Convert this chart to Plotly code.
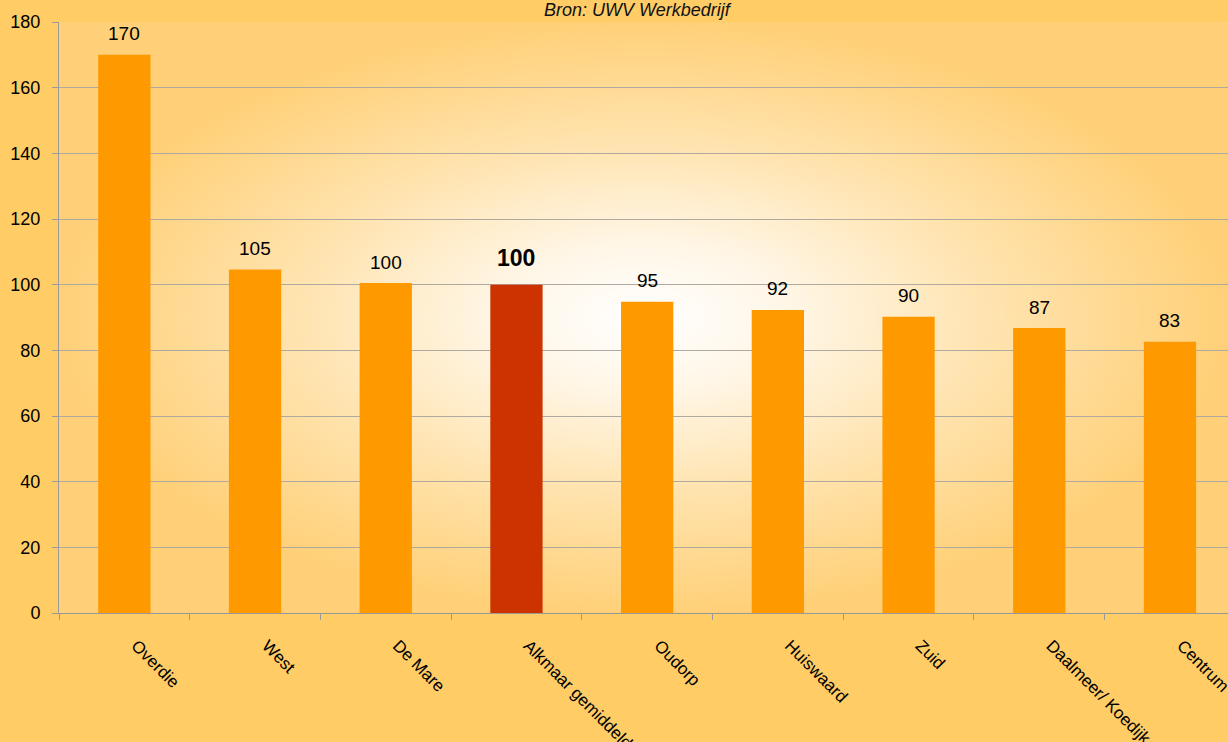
import base64
import plotly.graph_objects as go

categories = ["Overdie", "West", "De Mare", "Alkmaar gemiddeld", "Oudorp",
              "Huiswaard", "Zuid", "Daalmeer/ Koedijk", "Centrum"]
values = [170, 104.6, 100.5, 100, 94.8, 92.3, 90.2, 86.8, 82.6]
value_labels = ["170", "105", "100", "100", "95", "92", "90", "87", "83"]
highlight = "Alkmaar gemiddeld"
subtitle = "Bron: UWV Werkbedrijf"
y_ticks = [0, 20, 40, 60, 80, 100, 120, 140, 160, 180]

FONT = "Liberation Sans, Arial, sans-serif"
ORANGE = "#FF9900"
RED = "#CC3300"
PAPER = "#FFCC66"

svg = """<svg xmlns='http://www.w3.org/2000/svg' width='1000' height='1000' preserveAspectRatio='none' viewBox='0 0 1000 1000'>
<defs><radialGradient id='g' cx='0.5' cy='0.5' r='0.5'>
<stop offset='0' stop-color='#FFFFFF'/>
<stop offset='0.25' stop-color='#FFF6E6'/>
<stop offset='0.6' stop-color='#FFE3AE'/>
<stop offset='1' stop-color='#FFD078'/>
</radialGradient></defs>
<rect width='1000' height='1000' fill='#FFD078'/>
<rect width='1000' height='1000' fill='url(#g)'/>
</svg>"""
svg_uri = "data:image/svg+xml;base64," + base64.b64encode(svg.encode()).decode()

colors = [RED if c == highlight else ORANGE for c in categories]

fig = go.Figure()
fig.add_trace(go.Bar(
    x=categories, y=values, marker=dict(color=colors, line=dict(width=0)),
    width=0.4, hoverinfo="skip",
))

for c, v, lab in zip(categories, values, value_labels):
    bold = c == highlight
    fig.add_annotation(
        x=c, y=v, xref="x", yref="y", text=f"<b>{lab}</b>" if bold else lab,
        showarrow=False, yanchor="middle", yshift=27 if bold else 21,
        font=dict(family=FONT, size=23 if bold else 19, color="#000000"),
    )

fig.add_annotation(
    x=0.5, y=1, xref="paper", yref="paper", text=f"<i>{subtitle}</i>",
    showarrow=False, yanchor="middle", yshift=12, xshift=-6,
    font=dict(family=FONT, size=18, color="#111111"),
)

fig.add_layout_image(dict(
    source=svg_uri, xref="paper", yref="paper", x=0, y=1, sizex=1, sizey=1,
    xanchor="left", yanchor="top", sizing="stretch", layer="below",
))

fig.update_layout(
    width=1228, height=742,
    margin=dict(l=59, r=0, t=22, b=129, autoexpand=False),
    paper_bgcolor=PAPER, plot_bgcolor="rgba(0,0,0,0)",
    showlegend=False, bargap=0.6,
    font=dict(family=FONT, color="#000000"),
)
fig.update_xaxes(
    range=[-0.5, 8.444], tickson="boundaries", ticks="outside", ticklen=6,
    tickcolor="#999999", showline=True, linecolor="#999999", linewidth=1,
    showgrid=False, tickangle=45, tickfont=dict(family=FONT, size=17),
    ticklabelstandoff=15, ticklabelshift=12, fixedrange=True, automargin=False,
)
fig.update_yaxes(
    range=[0, 180], tickvals=y_ticks, ticks="outside", ticklen=6,
    tickcolor="#999999", showline=True, linecolor="#999999", linewidth=1,
    showgrid=True, gridcolor="#B0A9A0", gridwidth=1, zeroline=False,
    tickfont=dict(family=FONT, size=18), ticklabelstandoff=8, fixedrange=True,
    automargin=False,
)

fig.write_html(
    "out.html",
    config={"displayModeBar": False},
    post_script="document.body.style.margin='0';document.body.style.overflow='hidden';",
)
